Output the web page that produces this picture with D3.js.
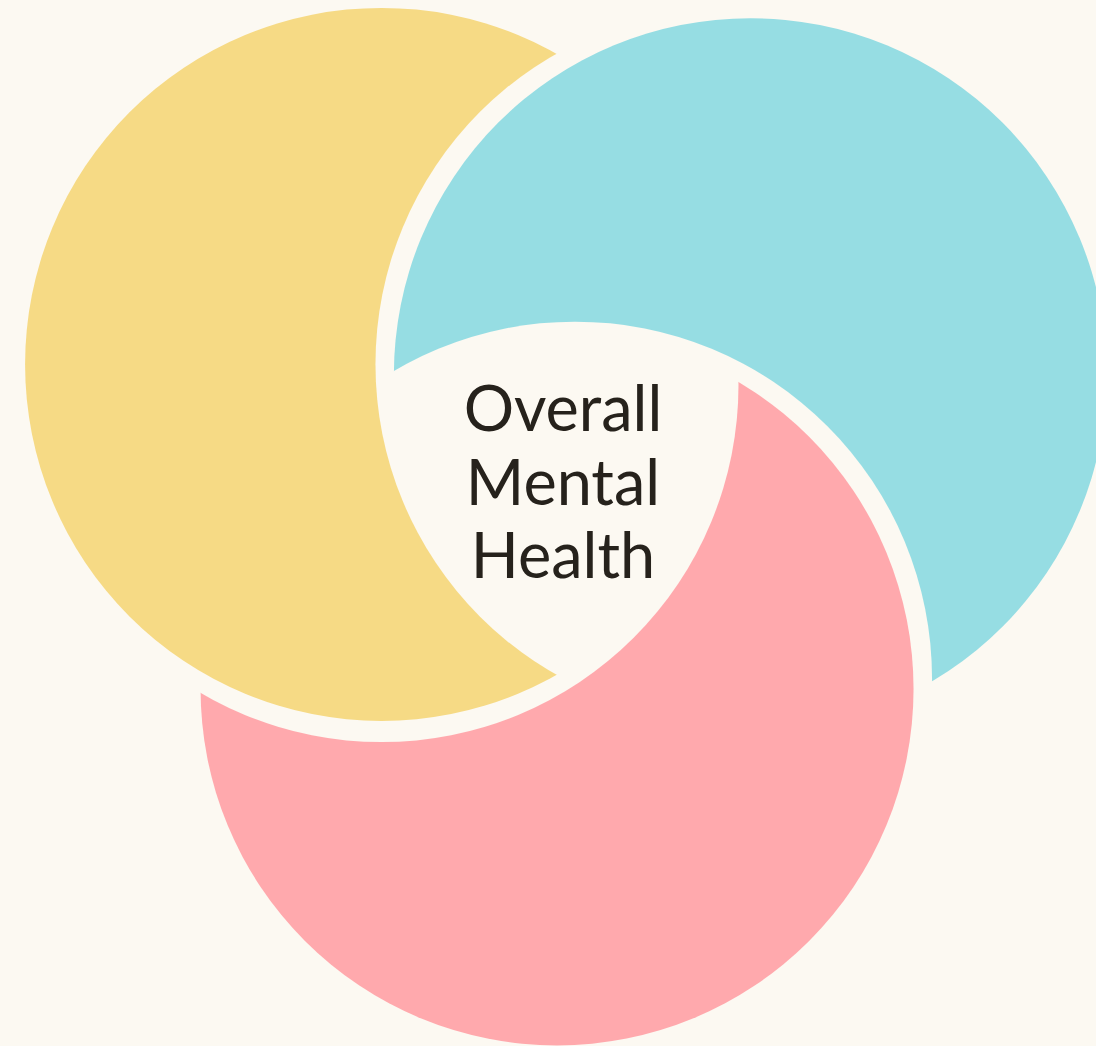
<!DOCTYPE html>
<html>
<head>
<meta charset="utf-8">
<script src="https://cdn.jsdelivr.net/npm/d3@7"></script>
<style>
    html, body { margin: 0; padding: 0; background: #fcf9f2; }
    svg { display: block; }
</style>
</head>
<body>
<div id="vis"></div>
<script>
const segmentNames = ['Yellow', 'Blue', 'Pink'];
const segmentColors = ['#f6da85', '#96dde3', '#ffa9ad'];
const labelLines = ['Overall', 'Mental', 'Health'];

const width = 1096;
const height = 1046;
const cx = 563;           // centre of the cycle
const cy = 476;
const ringDist = 213;     // distance of each circle centre from the cycle centre
const biteDist = 203;     // distance of the cut-out circle centre
const radius = 357;
const biteShift = -5;     // degrees the cut-out lags behind the next circle

// angle of each segment around the centre (degrees)
const angle = d3.scaleLinear()
    .domain([0, segmentNames.length])
    .range([-148.4, -148.4 + 360]);

const rad = deg => deg * Math.PI / 180;
const polar = (a, r) => [cx + r * Math.cos(rad(a)), cy + r * Math.sin(rad(a))];

const segments = segmentNames.map((name, i) => {
    const [x, y] = polar(angle(i), ringDist);
    const [bx, by] = polar(angle(i + 1) + biteShift, biteDist);
    return { name, color: segmentColors[i], x, y, bx, by };
});

const svg = d3.select('#vis')
    .append('svg')
    .attr('width', width)
    .attr('height', height);

svg.append('rect')
    .attr('width', width)
    .attr('height', height)
    .attr('fill', '#fcf9f2');

const defs = svg.append('defs');

const masks = defs.selectAll('mask')
    .data(segments)
    .join('mask')
    .attr('id', (d, i) => `cut-${i}`)
    .attr('maskUnits', 'userSpaceOnUse')
    .attr('x', 0).attr('y', 0)
    .attr('width', width).attr('height', height);

masks.append('rect')
    .attr('width', width)
    .attr('height', height)
    .attr('fill', 'white');

masks.append('circle')
    .attr('cx', d => d.bx)
    .attr('cy', d => d.by)
    .attr('r', radius)
    .attr('fill', 'black');

svg.selectAll('circle.segment')
    .data(segments)
    .join('circle')
    .attr('class', 'segment')
    .attr('cx', d => d.x)
    .attr('cy', d => d.y)
    .attr('r', radius - 0.5)
    .attr('fill', d => d.color)
    .attr('mask', (d, i) => `url(#cut-${i})`);

const lineHeight = 73.5;
svg.append('text')
    .attr('text-anchor', 'middle')
    .attr('font-family', 'Lato, "Open Sans", sans-serif')
    .attr('font-size', '63px')
    .attr('fill', '#26221c')
    .selectAll('tspan')
    .data(labelLines)
    .join('tspan')
    .attr('x', cx)
    .attr('y', (d, i) => 431 + i * lineHeight)
    .text(d => d);
</script>
</body>
</html>
